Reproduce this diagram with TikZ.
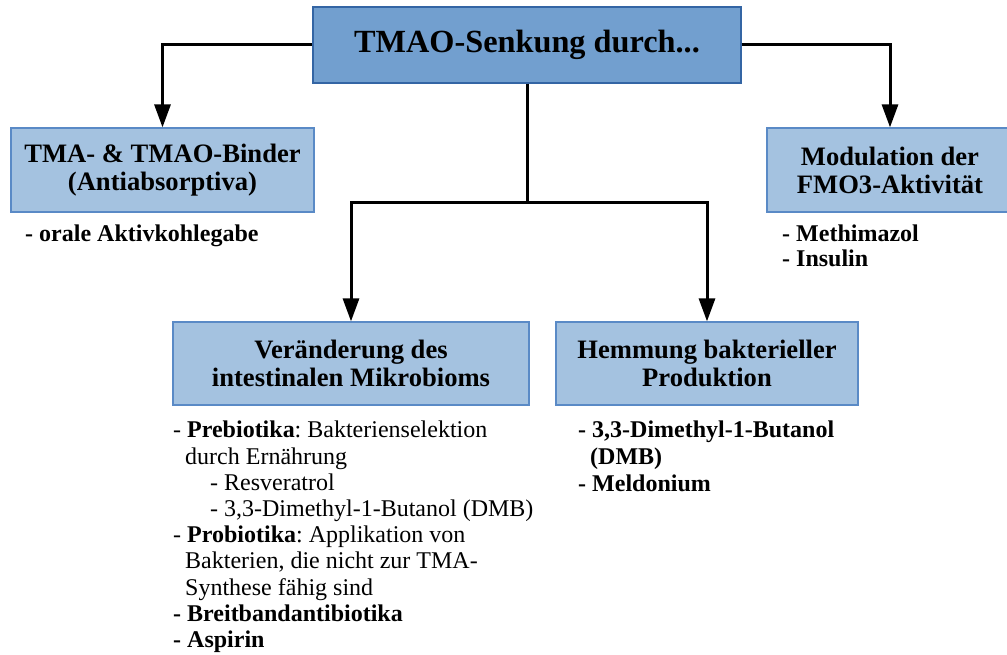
\documentclass[tikz,border=0pt]{standalone}
\usepackage{fontspec}
\setmainfont{Liberation Serif}
\usetikzlibrary{arrows.meta, positioning}
\frenchspacing

\definecolor{topfill}{HTML}{729FCF}
\definecolor{topline}{HTML}{3465A4}
\definecolor{boxfill}{HTML}{A4C2E0}
\definecolor{boxline}{HTML}{5A8AC6}

\begin{document}
\begin{tikzpicture}[x=1pt, y=-1pt,
  box/.style={draw=boxline, fill=boxfill, line width=1.2pt, align=center,
    inner sep=0pt, font=\fontsize{26.6}{28}\selectfont\bfseries},
  arr/.style={line width=3pt, -{Triangle[width=16pt,length=23pt]}},
  liste/.style={anchor=north west, align=left, inner sep=0pt,
    font=\fontsize{24}{26.2}\selectfont}]
  \useasboundingbox (0,0) rectangle (1007,655);

  % boxes
  \node[box, draw=topline, fill=topfill, minimum width=428pt, minimum height=76pt,
    font=\fontsize{32.3}{38}\selectfont\bfseries] (top) at (527,45) {TMAO-Senkung durch...};
  \node[box, minimum width=303pt, minimum height=84pt] (bind) at (162.5,170)
    {TMA- \& TMAO-Binder\\(Antiabsorptiva)};
  \node[box, minimum width=246pt, minimum height=84pt] (fmo) at (890,170)
    {Modulation der\\FMO3-Aktivität};
  \node[box, minimum width=356pt, minimum height=83pt] (mikro) at (351,363.5)
    {Veränderung des\\intestinalen Mikrobioms};
  \node[box, minimum width=302pt, minimum height=83pt] (hemm) at (707,363.5)
    {Hemmung bakterieller\\Produktion};

  % lists
  \node[liste, font=\fontsize{24}{26}\selectfont\bfseries] (l-bind) at (25,225)
    {- orale Aktivkohlegabe};
  \node[liste, font=\fontsize{24}{25}\selectfont\bfseries] (l-fmo) at (782,225)
    {- Methimazol\\- Insulin};
  \node[liste, font=\fontsize{24}{27}\selectfont\bfseries] (l-hemm) at (578,421)
    {- 3,3-Dimethyl-1-Butanol\\\hspace*{12pt}(DMB)\\- Meldonium};
  \node[liste] (l-mikro) at (173,421)
    {- \textbf{Prebiotika}: Bakterienselektion\\
     \hspace*{12pt}durch Ernährung\\
     \hspace*{37pt}- Resveratrol\\
     \hspace*{37pt}- 3,3-Dimethyl-1-Butanol (DMB)\\
     - \textbf{Probiotika}: Applikation von\\
     \hspace*{12pt}Bakterien, die nicht zur TMA-\\
     \hspace*{12pt}Synthese fähig sind\\
     \textbf{- Breitbandantibiotika}\\
     \textbf{- Aspirin}};

  % connectors
  \coordinate (split) at (527,203);
  \draw[arr] (top.west) -| (bind.north);
  \draw[arr] (top.east) -| (fmo.north);
  \draw[line width=3pt] (top.south) -- (split);
  \draw[arr] (split) -| (mikro.north);
  \draw[arr] (split) -| (hemm.north);
\end{tikzpicture}
\end{document}
